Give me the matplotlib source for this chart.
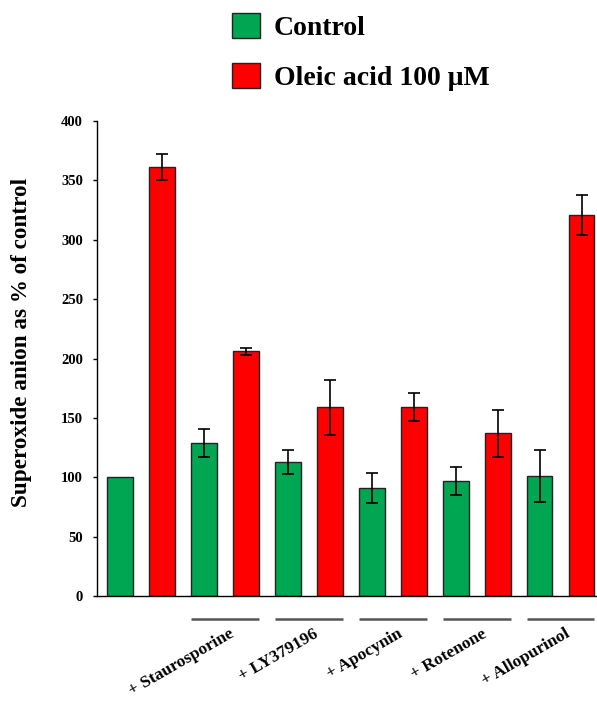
import matplotlib
matplotlib.use("Agg")
import matplotlib.pyplot as plt
import numpy as np

plt.rcParams['font.family'] = ['Liberation Serif', 'DejaVu Serif']
plt.rcParams['font.weight'] = 'bold'

# data
groups = ["", "+ Staurosporine", "+ LY379196", "+ Apocynin", "+ Rotenone", "+ Allopurinol"]
control = [100, 129, 113, 91, 97, 101]
control_err = [0, 12, 10, 13, 12, 22]
oleic = [361, 206, 159, 159, 137, 321]
oleic_err = [11, 3, 23, 12, 20, 17]

green = "#00a651"
red = "#ff0000"

fig = plt.figure(figsize=(5.97, 7.04), dpi=100)
ax = fig.add_axes([0.1625, 0.1534, 0.8375, 0.6747])

x = np.arange(len(groups))
w = 0.3
ax.bar(x - 0.25, control, w, color=green, edgecolor="#222222", linewidth=1,
       label="Control", zorder=2)
ax.bar(x + 0.25, oleic, w, color=red, edgecolor="#222222", linewidth=1,
       label="Oleic acid 100 \u03bcM", zorder=2)
ax.errorbar(x[1:] - 0.25, control[1:], yerr=control_err[1:], fmt="none",
            ecolor="black", elinewidth=1.2, capsize=4, capthick=1.2, zorder=3)
ax.errorbar(x + 0.25, oleic, yerr=oleic_err, fmt="none",
            ecolor="black", elinewidth=1.2, capsize=4, capthick=1.2, zorder=3)

ax.set_xlim(-0.524, 5.43)
ax.set_ylim(0, 400)
ax.set_yticks(range(0, 401, 50))
ax.tick_params(axis='y', labelsize=10.5, length=3, width=1, direction='out', pad=7)
ax.set_xticks([])
ax.spines['top'].set_visible(False)
ax.spines['right'].set_visible(False)
ax.spines['left'].set_linewidth(1)
ax.spines['bottom'].set_linewidth(1)
ax.set_ylabel("Superoxide anion as % of control", fontsize=16.7, fontweight='bold')
ax.yaxis.set_label_coords(-0.13, 0.533)

# treatment lines and labels under each group
trans = ax.get_xaxis_transform()
for i, name in enumerate(groups):
    if not name:
        continue
    ax.plot([i - 0.4, i + 0.4], [-0.048, -0.048], transform=trans, color="#555555",
            linewidth=1.8, clip_on=False, solid_capstyle='butt')
    ax.text(i + 0.05, -0.063, name, transform=trans, rotation=30, ha='right', va='top',
            rotation_mode='anchor', fontsize=12.5, fontweight='bold')

fig.legend(loc='upper left', bbox_to_anchor=(0.3465, 1.017), frameon=False,
           handlelength=1.0, handleheight=1.0, handletextpad=0.5, labelspacing=0.8,
           prop={'weight': 'bold', 'size': 20})

fig.savefig("out.png", dpi=100)
